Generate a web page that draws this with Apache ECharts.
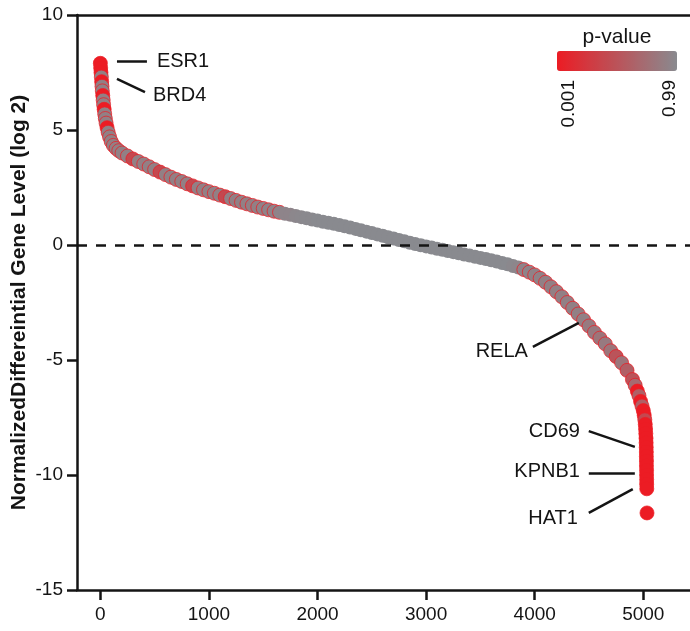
<!DOCTYPE html>
<html>
<head>
<meta charset="utf-8">
<script src="https://cdn.jsdelivr.net/npm/echarts@6/dist/echarts.min.js"></script>
<style>
html,body{margin:0;padding:0;background:#fff;}
#chart{width:690px;height:631px;}
</style>
</head>
<body>
<div id="chart"></div>
<script>
// ---- data ----
const ranks = [
  0,3,6,9,12,15,18,22,26,30,35,40,46,53,62,72,85,100,120,145,170,
  200,250,300,350,400,450,500,550,600,650,
  700,750,800,850,900,950,1000,1050,1100,1150,
  1200,1250,1300,1350,1400,1450,1500,1550,1600,1650,
  1700,1750,1800,1850,1900,1950,
  2000,2050,2100,2150,2200,2250,2300,2350,2400,2450,
  2500,2550,2600,2650,2700,2750,2800,2850,2900,2950,
  3000,3050,3100,3150,3200,3250,3300,3350,3400,3450,
  3500,3550,3600,3650,3700,3750,
  3800,3850,3900,3950,4000,4050,4100,4150,4200,4250,4300,4350,4400,
  4450,4500,4550,4600,4650,4700,4750,4800,4850,4900,
  4925,4945,4960,4975,4988,5000,5008,5014,5018,5021,5023,5025,5026,5027,5028,5028,5029,5029,5030,5030,5031,5031,5032,5034
];
const geneLevels = [
  7.9,7.7,7.5,7.3,7.1,6.9,6.7,6.5,6.3,6.1,5.9,5.7,5.5,5.3,5.1,4.9,4.7,4.5,4.33,4.2,4.1,
  4.0,3.87,3.74,3.63,3.52,3.4,3.28,3.17,3.06,2.95,
  2.85,2.76,2.66,2.57,2.48,2.4,2.32,2.25,2.17,2.1,
  2.02,1.94,1.86,1.79,1.72,1.65,1.59,1.53,1.47,1.42,
  1.36,1.31,1.26,1.21,1.16,1.11,
  1.06,1.01,0.97,0.92,0.87,0.81,0.76,0.7,0.64,0.58,
  0.52,0.46,0.4,0.34,0.28,0.22,0.16,0.1,0.04,-0.01,
  -0.06,-0.11,-0.16,-0.21,-0.26,-0.31,-0.36,-0.41,-0.46,-0.51,
  -0.56,-0.61,-0.66,-0.72,-0.78,-0.84,
  -0.91,-0.98,-1.07,-1.18,-1.3,-1.45,-1.62,-1.82,-2.03,-2.25,-2.5,-2.75,-3.0,
  -3.25,-3.52,-3.8,-4.05,-4.3,-4.6,-4.85,-5.12,-5.45,-5.85,
  -6.1,-6.35,-6.55,-6.8,-7.0,-7.2,-7.4,-7.6,-7.8,-8.0,-8.2,-8.4,-8.6,-8.8,-9.0,-9.2,-9.4,-9.6,-9.8,-10.0,-10.2,-10.4,-10.6,-11.65
];
const pValues = [
  0.001,0.001,0.001,0.9,0.001,0.9,0.9,0.001,0.9,0.9,0.001,0.9,0.9,0.9,0.001,0.9,0.9,0.9,0.9,0.9,0.9,
  0.9,0.9,0.4,0.9,0.9,0.9,0.9,0.4,0.9,0.9,
  0.9,0.9,0.9,0.4,0.9,0.9,0.9,0.9,0.9,0.4,
  0.9,0.9,0.9,0.9,0.9,0.9,0.93,0.93,0.93,0.93,
  0.94,0.94,0.96,0.97,0.98,0.98,
  0.99,0.99,0.99,0.99,0.99,0.99,0.99,0.99,0.99,0.99,
  0.99,0.99,0.99,0.99,0.99,0.99,0.99,0.99,0.99,0.99,
  0.99,0.99,0.99,0.99,0.99,0.99,0.99,0.99,0.99,0.99,
  0.99,0.99,0.99,0.99,0.99,0.99,
  0.97,0.95,0.93,0.93,0.92,0.92,0.9,0.9,0.9,0.9,0.9,0.9,0.9,
  0.9,0.85,0.85,0.8,0.85,0.8,0.5,0.8,0.6,0.5,
  0.7,0.001,0.6,0.001,0.6,0.001,0.001,0.4,0.001,0.001,0.001,0.001,0.001,0.001,0.001,0.001,0.001,0.001,0.001,0.001,0.001,0.001,0.001,0.001
];
const xTickValues = [0,1000,2000,3000,4000,5000];
const yTicks = { min: -15, max: 10, interval: 5 };
const pRange = [0.001, 0.99];
const pLabels = ['0.001', '0.99'];

const annotationNames = ['ESR1','BRD4','RELA','CD69','KPNB1','HAT1'];
const annotationTextAt = [[521,7.98],[484,6.52],[3937,-4.65],[4416,-8.09],[4416,-9.83],[4397,-11.87]];
const annotationSide = ['right','right','left','left','left','left'];
const leaderFrom = [[153,8.0],[153,7.22],[3983,-4.43],[4498,-8.09],[4498,-9.91],[4498,-11.65]];
const leaderTo = [[429,8.0],[411,6.65],[4406,-3.39],[4922,-8.78],[4922,-9.91],[4903,-10.61]];

// ---- styles ----
const RED = '#ec1c24';
const GREY = '#898a8f';
const INK = '#141414';
const FONT = '"Liberation Sans", Arial, Helvetica, sans-serif';

const points = ranks.map((r, i) => ({
  value: [r, geneLevels[i], pValues[i]],
  itemStyle: pValues[i] < 0.94
    ? { borderColor: 'rgba(236,28,36,0.75)', borderWidth: 1, opacity: 1 }
    : { borderWidth: 0, opacity: 1 }
}));

const labelPoints = annotationNames.map((n, i) => ({
  name: n,
  value: annotationTextAt[i],
  label: { position: annotationSide[i] }
}));

const leaderLines = annotationNames.map((n, i) => [
  { coord: leaderFrom[i] }, { coord: leaderTo[i] }
]);

const chart = echarts.init(document.getElementById('chart'), null, { renderer: 'canvas' });
chart.setOption({
  animation: false,
  backgroundColor: '#fff',
  grid: { left: 77, right: 0, top: 15, bottom: 41, containLabel: false, outerBoundsMode: 'none' },
  xAxis: [{
    type: 'value', min: -215, max: 5430, position: 'bottom',
    axisLine: { show: true, onZero: false, lineStyle: { color: INK, width: 2.5 } },
    axisTick: { show: true, length: 10, inside: false, customValues: xTickValues, lineStyle: { color: INK, width: 2.5 } },
    axisLabel: { show: true, customValues: xTickValues, margin: 15, color: INK, fontSize: 19, fontFamily: FONT,
      formatter: v => String(v) },
    splitLine: { show: false }
  }, {
    type: 'value', min: -215, max: 5430, position: 'top',
    axisLine: { show: true, onZero: false, lineStyle: { color: INK, width: 2.5 } },
    axisTick: { show: false }, axisLabel: { show: false }, splitLine: { show: false }
  }],
  yAxis: {
    type: 'value', min: yTicks.min, max: yTicks.max, interval: yTicks.interval,
    name: 'NormalizedDiffereintial Gene Level (log 2)',
    nameLocation: 'middle', nameGap: 47, nameMoveOverlap: false,
    nameTextStyle: { color: INK, fontSize: 21, fontWeight: 'bold', fontFamily: FONT },
    axisLine: { show: true, onZero: false, lineStyle: { color: INK, width: 2.5 } },
    axisTick: { show: true, length: 10, inside: false, lineStyle: { color: INK, width: 2.5 } },
    axisLabel: { margin: 14, color: INK, fontSize: 19, fontFamily: FONT },
    splitLine: { show: false }
  },
  visualMap: {
    type: 'continuous', seriesIndex: 0, dimension: 2,
    min: pRange[0], max: pRange[1],
    orient: 'horizontal', left: 557, top: 51, padding: 0,
    itemWidth: 20, itemHeight: 120,
    calculable: false, realtime: false, hoverLink: false,
    text: null, showLabel: false,
    inRange: { color: [RED, GREY] },
    textStyle: { color: 'transparent' }
  },
  series: [{
    type: 'scatter', name: 'genes',
    symbol: 'circle', symbolSize: 14,
    data: points,
    silent: true,
    itemStyle: { opacity: 1 },
    markLine: {
      silent: true, symbol: ['none', 'none'], animation: false,
      label: { show: false },
      data: [
        { yAxis: 0, lineStyle: { color: INK, width: 2.5, type: [10, 9] } }
      ].concat(leaderLines.map(l => [
        Object.assign({ lineStyle: { color: INK, width: 2.5, type: 'solid' } }, l[0]), l[1]
      ]))
    }
  }, {
    type: 'scatter', name: 'labels',
    symbolSize: 0, silent: true,
    data: labelPoints,
    itemStyle: { opacity: 1 },
    label: {
      show: true, formatter: '{b}', distance: 0,
      color: INK, fontSize: 20, fontFamily: FONT
    }
  }],
  graphic: [
    { type: 'text', x: 617, y: 37, style: { text: 'p-value', fill: INK, font: '21px ' + FONT, align: 'center', verticalAlign: 'middle' } },
    { type: 'text', x: 569, y: 80, rotation: Math.PI / 2, style: { text: pLabels[0], fill: INK, font: '19px ' + FONT, align: 'right', verticalAlign: 'middle' } },
    { type: 'text', x: 670, y: 80, rotation: Math.PI / 2, style: { text: pLabels[1], fill: INK, font: '19px ' + FONT, align: 'right', verticalAlign: 'middle' } }
  ]
});
</script>
</body>
</html>
